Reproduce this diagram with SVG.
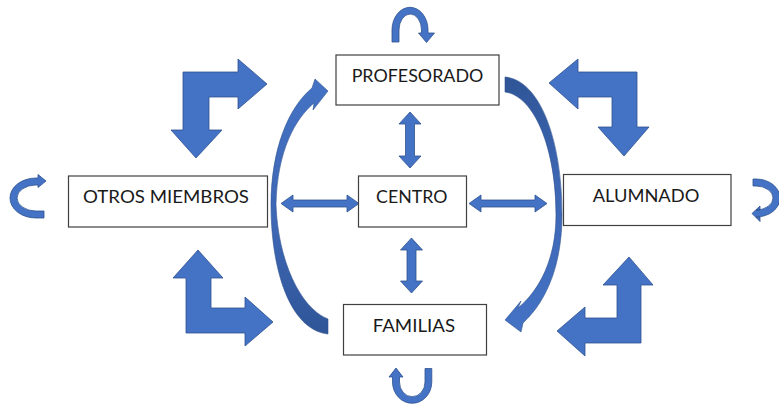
<svg xmlns="http://www.w3.org/2000/svg" width="779" height="405" viewBox="0 0 779 405">
<style>
.box{fill:#fff;stroke:#404040;stroke-width:1.2}
.lbl{font-family:Lato,"Liberation Sans",sans-serif;font-size:18px;fill:#1a1a1a;text-anchor:middle}
.arr{fill:#4472C4;stroke:#2F528F;stroke-width:0.8;stroke-linejoin:miter}
</style>
<defs>
<linearGradient id="gl" gradientUnits="userSpaceOnUse" x1="0" y1="80" x2="0" y2="334">
<stop offset="0" stop-color="#4472C4"/><stop offset="0.6" stop-color="#3D66B3"/><stop offset="1" stop-color="#2F5597"/>
</linearGradient>
<linearGradient id="gr" gradientUnits="userSpaceOnUse" x1="0" y1="77" x2="0" y2="332">
<stop offset="0" stop-color="#2F5597"/><stop offset="0.4" stop-color="#3D66B3"/><stop offset="1" stop-color="#4472C4"/>
</linearGradient>
</defs>
<rect width="779" height="405" fill="#fff"/>
<g id="connectors">
<!-- bent arrows -->
<path class="arr" d="M183 72 L238 72 L238 59 L267 84 L238 109 L238 97 L209 97 L209 130 L222 130 L196 158 L171 130 L183 130 Z"/>
<path class="arr" d="M637 72 L578 72 L578 59 L549 83 L578 109 L578 97 L612 97 L612 127 L598 127 L624 156 L649 127 L637 127 Z"/>
<path class="arr" d="M198 250 L223 278 L211 278 L211 308 L245 308 L245 297 L273 322 L245 346 L245 333 L186 333 L186 278 L173 278 Z"/>
<path class="arr" d="M629 257 L653 285 L641 285 L641 343 L585 343 L585 356 L557 331 L585 307 L585 318 L617 318 L617 285 L603 285 Z"/>
<!-- curved arrows -->
<path d="M328 334 C290 330 271 270 271 205 C271 150 288 108 312 88 L315 79 L328 91 L313 110 L314 103 C296 118 277 150 276 205 C278 260 300 308 328 319 Z" fill="url(#gl)" stroke="#2F528F" stroke-width="0.6"/>
<path d="M505 77 C540 80 562 140 562 215 C562 262 548 300 523 323 L521 332 L505 320 L521 301 L518 308 C540 290 556 258 556 215 C556 150 535 96 505 92 Z" fill="url(#gr)" stroke="#2F528F" stroke-width="0.6"/>
<!-- double arrows -->
<path class="arr" d="M410 112 L421 124 L414.5 124 L414.5 156 L421 156 L410 168 L399 156 L405.5 156 L405.5 124 L399 124 Z"/>
<path class="arr" d="M411.5 238 L422.5 250 L416 250 L416 281 L422.5 281 L411.5 293 L400.5 281 L407 281 L407 250 L400.5 250 Z"/>
<path class="arr" d="M281 203.5 L293 195 L293 200 L347 200 L347 195 L359 203.5 L347 212 L347 207 L293 207 L293 212 Z"/>
<path class="arr" d="M469 203.5 L481 195 L481 200 L535 200 L535 195 L547 203.5 L535 212 L535 207 L481 207 L481 212 Z"/>
<!-- self loops -->
<path class="arr" d="M392 42 L392 30 A18 22.7 0 0 1 428 30 L428 33 L434.5 33 L426.5 42.5 L418.5 33 L421.5 33 L421.5 30 A11.25 16 0 0 0 399 30 L399 42 Z"/>
<path class="arr" d="M392.5 377 L389 377 L396 368 L403 377 L399.5 377 L399.5 382 A12.75 14.7 0 0 0 425 382 L425 368.5 L431.8 368.5 L431.8 382 A19.65 21.3 0 0 1 392.5 382 Z"/>
<path class="arr" d="M44 218 L36 218 A26 20 0 0 1 36 178 L38 178 L38 174.5 L46 181 L38 187.5 L38 185 L36 185 A19 13 0 0 0 36 211 L44 211 Z"/>
<path class="arr" d="M753 179 L756 179 A24 19 0 0 1 756 217 L760 217 L760 221.5 L752 213.5 L760 206 L760 210 L756 210 A17 12 0 0 0 756 186 L753 186 Z"/>
</g>
<g id="profesorado">
<rect class="box" x="336" y="55" width="163" height="50"/>
<text class="lbl" x="417.5" y="81.7" textLength="131.7" lengthAdjust="spacingAndGlyphs">PROFESORADO</text>
</g>
<g id="otros-miembros">
<rect class="box" x="68.5" y="176" width="199" height="51"/>
<text class="lbl" x="166" y="203.3" textLength="166" lengthAdjust="spacingAndGlyphs">OTROS MIEMBROS</text>
</g>
<g id="centro">
<rect class="box" x="358.5" y="176" width="108" height="51"/>
<text class="lbl" x="411.7" y="203.3" textLength="71.3" lengthAdjust="spacingAndGlyphs">CENTRO</text>
</g>
<g id="alumnado">
<rect class="box" x="563.5" y="174.5" width="167.5" height="51"/>
<text class="lbl" x="646" y="202.3" textLength="106.7" lengthAdjust="spacingAndGlyphs">ALUMNADO</text>
</g>
<g id="familias">
<rect class="box" x="343.5" y="304.5" width="143" height="50.5"/>
<text class="lbl" x="413.9" y="331.7" textLength="82.3" lengthAdjust="spacingAndGlyphs">FAMILIAS</text>
</g>
</svg>
